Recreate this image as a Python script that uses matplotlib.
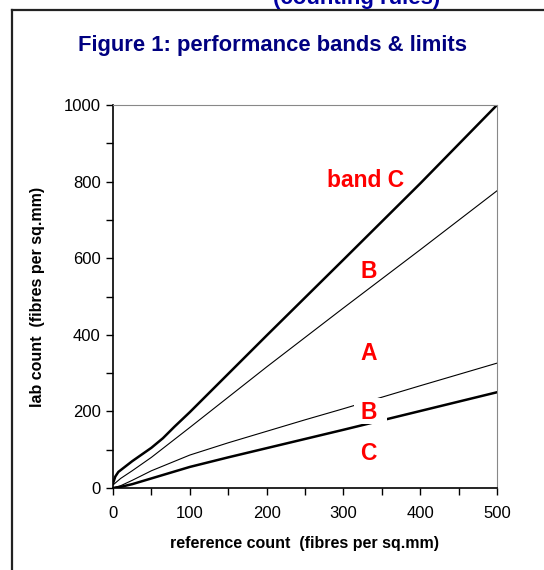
#!/usr/bin/env python3

from matplotlib import pyplot as plt
from matplotlib.lines import Line2D
from matplotlib.patches import Rectangle
from matplotlib.ticker import MultipleLocator

plt.rcParams['font.family'] = ['Liberation Sans', 'DejaVu Sans']

# band limits (reference count -> lab count)
ref_upper_c = [0, 3, 7, 25, 50, 65, 80, 100, 200, 300, 400, 500]
lab_upper_c = [12, 30, 42, 70, 105, 130, 160, 198, 398, 596, 795, 1000]
ref_upper_a = [0, 10, 25, 50, 100, 150, 200, 300, 400, 500]
lab_upper_a = [8, 25, 45, 80, 158, 237, 316, 470, 622, 776]
ref_lower_a = [0, 10, 25, 50, 100, 150, 200, 250, 300, 400, 500]
lab_lower_a = [0, 6, 20, 45, 86, 118, 148, 178, 207, 267, 326]
ref_lower_b = [0, 10, 25, 50, 100, 150, 200, 250, 300, 400, 500]
lab_lower_b = [0, 3, 10, 25, 55, 80, 104, 128, 152, 201, 250]

labels = ['band C', 'B', 'A', 'B', 'C']
label_x = [329, 333, 333, 333, 333]
label_y = [804, 564, 352, 198, 91]

fig = plt.figure(figsize=(5.44, 5.70), dpi=100)
ax = fig.add_axes([113/544, 1-488/570, 384/544, 383/570])

ax.plot(ref_upper_c, lab_upper_c, color='black', lw=1.8)
ax.plot(ref_upper_a, lab_upper_a, color='black', lw=0.8)
ax.plot(ref_lower_a, lab_lower_a, color='black', lw=0.8)
ax.plot(ref_lower_b, lab_lower_b, color='black', lw=1.8)

# white background behind the lower "B" label, it breaks the two lines
ax.add_patch(Rectangle((314, 166), 43, 68, facecolor='white', edgecolor='none', zorder=4))

for t, x, y in zip(labels, label_x, label_y):
    ax.text(x, y, t, color='#ff0000', fontsize=16.5, fontweight='bold',
            ha='center', va='center', zorder=5)

ax.set_xlim(0, 500)
ax.set_ylim(0, 1000)
ax.xaxis.set_major_locator(MultipleLocator(100))
ax.xaxis.set_minor_locator(MultipleLocator(50))
ax.yaxis.set_major_locator(MultipleLocator(200))
ax.yaxis.set_minor_locator(MultipleLocator(100))
ax.tick_params(which='both', direction='out', length=5, width=1, labelsize=12,
               colors='black', pad=4)
ax.tick_params(axis='x', pad=8)
for s in ['top', 'right']:
    ax.spines[s].set_color('#888888')
for s in ['left', 'bottom']:
    ax.spines[s].set_color('black')
    ax.spines[s].set_linewidth(1.2)

ax.set_xlabel('reference count  (fibres per sq.mm)', fontsize=11.5, fontweight='bold',
              labelpad=11)
ax.set_ylabel('lab count  (fibres per sq.mm)', fontsize=11.5, fontweight='bold',
              labelpad=13)

fig.text(0.5, 1-45/570, 'Figure 1: performance bands & limits', color='#000080',
         fontsize=15.8, fontweight='bold', ha='center', va='center')
fig.text(357/544, 1-4/570, '(counting rules)', color='#0000a0',
         fontsize=16, fontweight='bold', ha='center', va='baseline')

# frame around the figure, only the left and top edges fall inside the picture
fig.add_artist(Line2D([12/544, 12/544], [-0.1, 1-10/570], color='#222222', lw=1.6))
fig.add_artist(Line2D([12/544, 1.1], [1-10/570, 1-10/570], color='#222222', lw=1.6))

fig.savefig('out.png', dpi=100)
